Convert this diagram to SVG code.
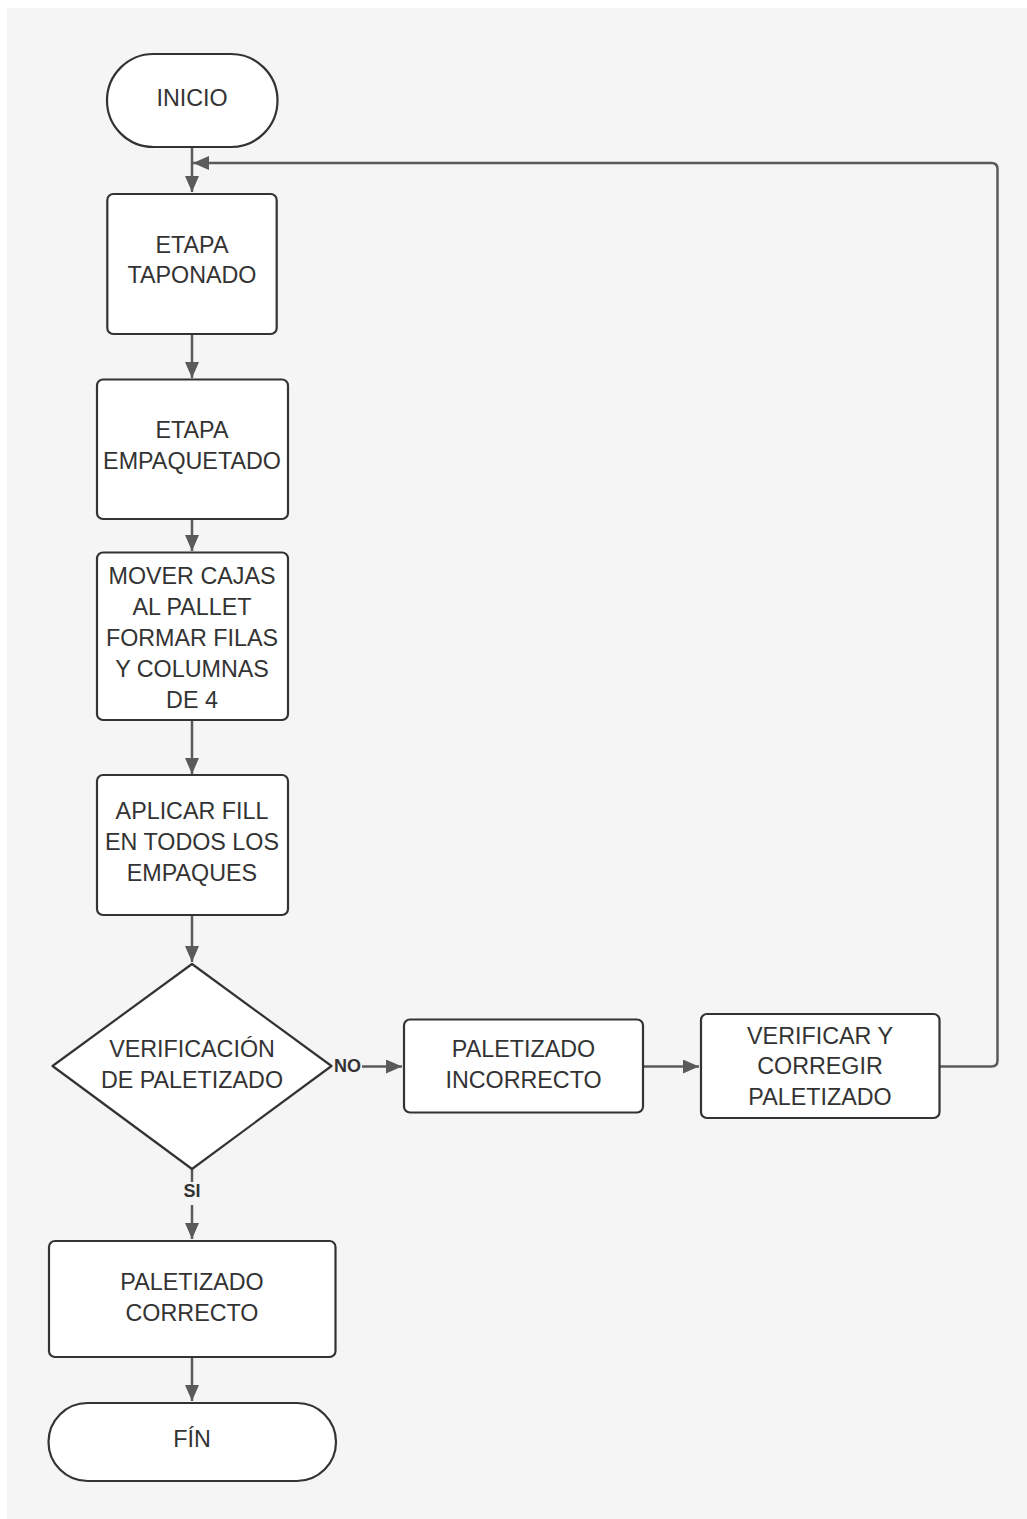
<svg xmlns="http://www.w3.org/2000/svg" width="1027" height="1519" viewBox="0 0 1027 1519">
<defs>
<style>
.node{fill:#ffffff;stroke:#333333;stroke-width:2.2}
.t{font-family:"Liberation Sans",Arial,sans-serif;font-size:23.3px;fill:#333333;text-anchor:middle}
.lbl{font-family:"Liberation Sans",Arial,sans-serif;font-size:18px;font-weight:bold;fill:#333333;text-anchor:middle}
.c{fill:none;stroke:#5a5a5a;stroke-width:2.5}
</style>
<marker id="ah" markerUnits="userSpaceOnUse" markerWidth="18" markerHeight="14" refX="16" refY="7" orient="auto">
<path d="M0,0 L16,7 L0,14 Z" fill="#5a5a5a"/>
</marker>
</defs>
<rect x="0" y="0" width="1027" height="1519" fill="#ffffff"/>
<rect x="7" y="8" width="1020" height="1511" fill="#f5f5f5"/>

<g id="connectors">
<path class="c" d="M192,147 L192,192" marker-end="url(#ah)"/>
<path class="c" d="M939,1066.5 L991.5,1066.5 Q997.5,1066.5 997.5,1060.5 L997.5,169 Q997.5,163 991.5,163 L193,163" marker-end="url(#ah)"/>
<path class="c" d="M192,334 L192,378" marker-end="url(#ah)"/>
<path class="c" d="M192,519 L192,551" marker-end="url(#ah)"/>
<path class="c" d="M192,720 L192,774" marker-end="url(#ah)"/>
<path class="c" d="M192,915 L192,962" marker-end="url(#ah)"/>
<path class="c" d="M362,1066.5 L402,1066.5" marker-end="url(#ah)"/>
<path class="c" d="M643,1066.5 L699,1066.5" marker-end="url(#ah)"/>
<path class="c" d="M192,1169 L192,1182"/>
<path class="c" d="M192,1205 L192,1239" marker-end="url(#ah)"/>
<path class="c" d="M192,1357 L192,1401" marker-end="url(#ah)"/>
<text class="lbl" x="347.5" y="1072">NO</text>
<text class="lbl" x="192" y="1197">SI</text>
</g>

<g id="inicio">
<rect class="node" x="107" y="54" width="170.5" height="93" rx="46.5"/>
<text class="t" x="192" y="106">INICIO</text>
</g>

<g id="etapa-taponado">
<rect class="node" x="107.3" y="194" width="169.4" height="140" rx="6"/>
<text class="t" x="192" y="252.5">ETAPA</text>
<text class="t" x="192" y="283">TAPONADO</text>
</g>

<g id="etapa-empaquetado">
<rect class="node" x="97" y="379.5" width="191" height="139.5" rx="6"/>
<text class="t" x="192" y="438">ETAPA</text>
<text class="t" x="192" y="469">EMPAQUETADO</text>
</g>

<g id="mover-cajas">
<rect class="node" x="97" y="552.5" width="191" height="167.5" rx="6"/>
<text class="t" x="192" y="583.5">MOVER CAJAS</text>
<text class="t" x="192" y="614.5">AL PALLET</text>
<text class="t" x="192" y="645.5">FORMAR FILAS</text>
<text class="t" x="192" y="676.5">Y COLUMNAS</text>
<text class="t" x="192" y="707.5">DE 4</text>
</g>

<g id="aplicar-fill">
<rect class="node" x="97" y="775" width="191" height="140" rx="6"/>
<text class="t" x="192" y="818.5">APLICAR FILL</text>
<text class="t" x="192" y="849.5">EN TODOS LOS</text>
<text class="t" x="192" y="880.5">EMPAQUES</text>
</g>

<g id="verificacion">
<path class="node" d="M192,964 L331.5,1066 L192,1169 L52.5,1066 Z" stroke-linejoin="round"/>
<text class="t" x="192" y="1057">VERIFICACIÓN</text>
<text class="t" x="192" y="1088">DE PALETIZADO</text>
</g>

<g id="paletizado-incorrecto">
<rect class="node" x="404" y="1019.5" width="239" height="93" rx="6"/>
<text class="t" x="523.5" y="1057">PALETIZADO</text>
<text class="t" x="523.5" y="1087.5">INCORRECTO</text>
</g>

<g id="verificar-corregir">
<rect class="node" x="701" y="1014" width="238.5" height="104" rx="6"/>
<text class="t" x="820" y="1043.5">VERIFICAR Y</text>
<text class="t" x="820" y="1074">CORREGIR</text>
<text class="t" x="820" y="1105">PALETIZADO</text>
</g>

<g id="paletizado-correcto">
<rect class="node" x="49" y="1241" width="286.5" height="116" rx="6"/>
<text class="t" x="192" y="1290">PALETIZADO</text>
<text class="t" x="192" y="1321">CORRECTO</text>
</g>

<g id="fin">
<rect class="node" x="48.5" y="1403" width="287.5" height="78" rx="39"/>
<text class="t" x="192" y="1447">FÍN</text>
</g>
</svg>
